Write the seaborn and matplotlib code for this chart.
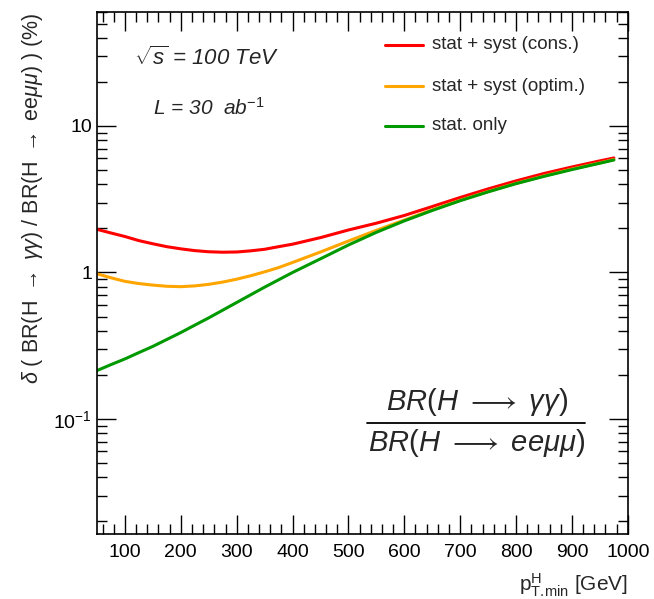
import numpy as np
import pandas as pd
import matplotlib
matplotlib.use("Agg")
import matplotlib.pyplot as plt
import seaborn as sns
from matplotlib.ticker import FixedLocator, MultipleLocator, LogLocator, NullFormatter, FuncFormatter

# Werte
pt_min = [50, 75, 100, 125, 150, 175, 200, 225, 250, 275, 300, 325, 350, 375, 400,
          450, 500, 550, 600, 650, 700, 750, 800, 850, 900, 950, 975]
stat_syst_cons = [1.97, 1.86, 1.76, 1.65, 1.57, 1.50, 1.45, 1.41, 1.385, 1.375, 1.38, 1.405, 1.44, 1.50, 1.56,
                  1.73, 1.95, 2.17, 2.45, 2.82, 3.25, 3.72, 4.22, 4.74, 5.25, 5.78, 6.05]
stat_syst_optim = [0.98, 0.92, 0.87, 0.84, 0.82, 0.805, 0.80, 0.81, 0.83, 0.86, 0.90, 0.95, 1.01, 1.08, 1.17,
                   1.38, 1.64, 1.94, 2.28, 2.68, 3.11, 3.57, 4.06, 4.56, 5.08, 5.6, 5.9]
stat_only = [0.214, 0.235, 0.257, 0.284, 0.313, 0.349, 0.389, 0.437, 0.49, 0.553, 0.624, 0.704, 0.794, 0.891, 1.0,
             1.24, 1.54, 1.88, 2.25, 2.65, 3.09, 3.55, 4.04, 4.53, 5.04, 5.57, 5.86]
serien = ["stat + syst (cons.)", "stat + syst (optim.)", "stat. only"]
farben = {"stat + syst (cons.)": "#ff0000",
          "stat + syst (optim.)": "#ffa500",
          "stat. only": "#009a00"}

n = len(pt_min)
daten = pd.DataFrame({
    "pt": pt_min * 3,
    "wert": stat_syst_cons + stat_syst_optim + stat_only,
    "serie": [serien[0]] * n + [serien[1]] * n + [serien[2]] * n,
})

sns.set_theme(style="ticks")
plt.rcParams["font.family"] = ["Liberation Sans", "DejaVu Sans"]
plt.rcParams["mathtext.fontset"] = "custom"
plt.rcParams["mathtext.rm"] = "Liberation Sans"
plt.rcParams["mathtext.it"] = "Liberation Sans:italic"
plt.rcParams["mathtext.bf"] = "Liberation Sans:bold"

fig = plt.figure(figsize=(6.54, 5.99), dpi=100)
ax = fig.add_axes([0.1483, 0.1085, 0.8117, 0.8715])

sns.lineplot(data=daten, x="pt", y="wert", hue="serie", palette=farben,
             linewidth=2.2, ax=ax, legend=False, sort=True)

ax.set_yscale("log")
ax.set_xlim(50, 1000)
ax.set_ylim(0.0164, 60)

# Ticks im ROOT-Stil
ax.xaxis.set_major_locator(MultipleLocator(100))
ax.xaxis.set_minor_locator(MultipleLocator(20))
ax.yaxis.set_major_locator(FixedLocator([0.1, 1, 10]))
ax.yaxis.set_minor_locator(LogLocator(base=10, subs=np.arange(2, 10)))
ax.yaxis.set_minor_formatter(NullFormatter())

def y_format(v, pos):
    if abs(v - 10) < 1e-9:
        return "10"
    if abs(v - 1) < 1e-9:
        return "1"
    return r"$10^{-1}$"

ax.yaxis.set_major_formatter(FuncFormatter(y_format))
ax.xaxis.set_major_formatter(FuncFormatter(lambda v, p: "%d" % v if v >= 100 else ""))

ax.tick_params(which="both", direction="in", top=True, right=True, colors="black",
               labelsize=14, width=1.0)
ax.tick_params(which="major", length=14)
ax.tick_params(which="minor", length=7)
ax.tick_params(axis="x", pad=7)
for s in ax.spines.values():
    s.set_linewidth(1.2)
    s.set_color("black")

ax.set_xlabel(r"p$_{\mathrm{T.\!min}}^{\mathrm{H}}$ [GeV]", fontsize=15, loc="right", labelpad=8)
ax.set_ylabel(r"$\delta$ ( BR(H $\rightarrow$ $\gamma\gamma$) / BR(H $\rightarrow$ ee$\mu\mu$) ) (%)",
              fontsize=15.5, labelpad=6, loc="top")

# Beschriftungen
ax.text(0.07, 0.912, r"$\sqrt{s}$ = 100 TeV", transform=ax.transAxes, fontsize=16,
        style="italic", va="center")
ax.text(0.105, 0.816, r"$L$ = 30  ab$^{-1}$", transform=ax.transAxes, fontsize=15,
        style="italic", va="center")

# Legende
zeilen_y = [0.937, 0.858, 0.782]
for name, yy in zip(serien, zeilen_y):
    ax.plot([0.542, 0.614], [yy, yy], transform=ax.transAxes, color=farben[name], lw=2.2)
    ax.text(0.631, yy, name, transform=ax.transAxes, fontsize=13.5, va="center")

# Bruch
ax.text(0.715, 0.253, r"$BR(H\ \longrightarrow\ \gamma\gamma)$", transform=ax.transAxes,
        fontsize=21, ha="center", va="center")
ax.plot([0.508, 0.92], [0.212, 0.212], transform=ax.transAxes, color="black", lw=1.3)
ax.text(0.715, 0.175, r"$BR(H\ \longrightarrow\ ee\mu\mu)$", transform=ax.transAxes,
        fontsize=21, ha="center", va="center")

fig.savefig("out.png", dpi=100)
